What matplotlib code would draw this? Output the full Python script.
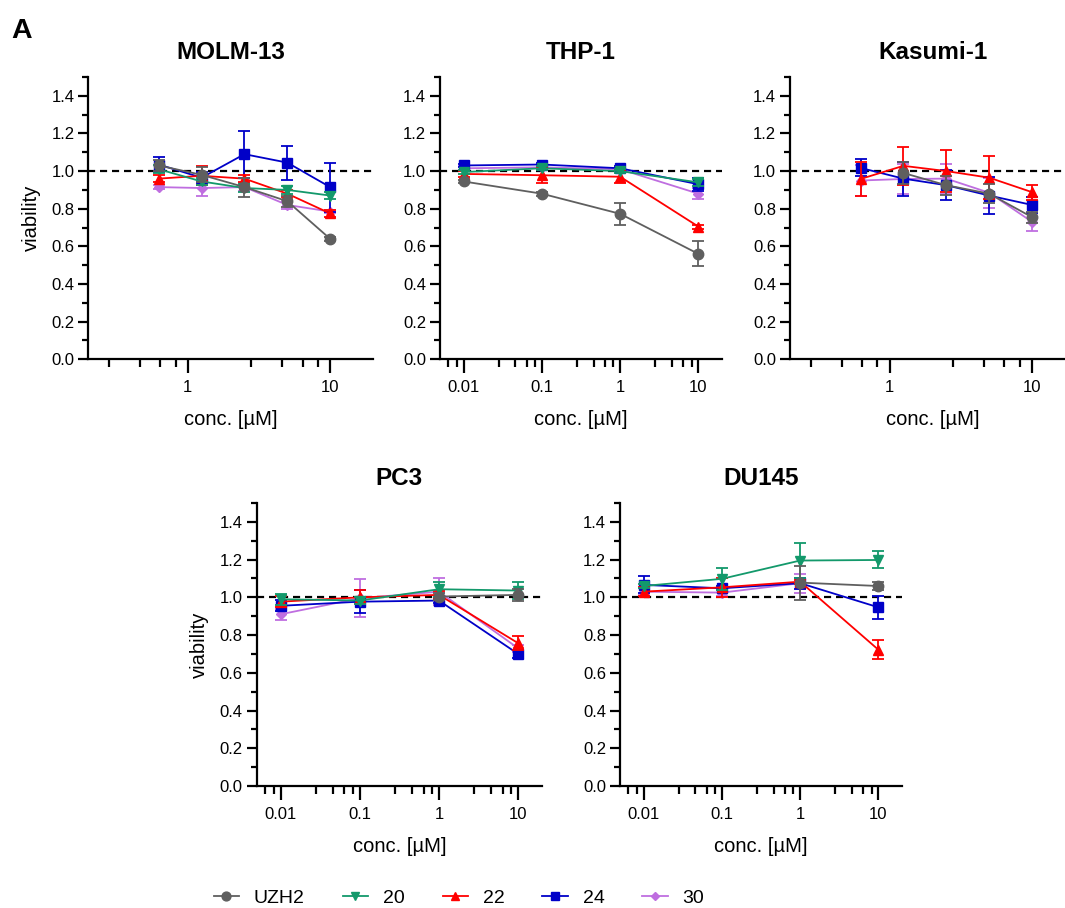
import numpy as np
import matplotlib
matplotlib.use("Agg")
import matplotlib.pyplot as plt
from matplotlib.lines import Line2D
from matplotlib.ticker import FixedLocator, NullFormatter

plt.rcParams['font.family'] = ['Liberation Sans', 'DejaVu Sans']

nan = np.nan

# ---- data ---------------------------------------------------------------
compounds = ["UZH2", "20", "22", "24", "30"]
colors = ["#5f5f5f", "#13996b", "#ff0000", "#0000c8", "#bf6ee0"]
markers = ["o", "v", "^", "s", "D"]
msizes = [7.5, 7.5, 7.5, 6.8, 5.2]

x_dilution = [0.625, 1.25, 2.5, 5, 10]
x_decade = [0.01, 0.1, 1, 10]

# MOLM-13
molm_mean = {
    "UZH2": [1.03, 0.98, 0.915, 0.84, 0.64],
    "20":   [1.01, 0.945, 0.91, 0.90, 0.87],
    "22":   [0.96, 0.975, 0.96, 0.88, 0.775],
    "24":   [1.035, 0.965, 1.09, 1.045, 0.915],
    "30":   [0.915, 0.91, 0.915, 0.82, 0.785],
}
molm_sem = {
    "UZH2": [0.03, 0.04, 0.05, 0.03, 0.01],
    "20":   [0.02, 0.02, 0.02, 0.02, 0.02],
    "22":   [0.02, 0.05, 0.02, 0.02, 0.02],
    "24":   [0.04, 0.03, 0.125, 0.09, 0.13],
    "30":   [0.01, 0.04, 0.02, 0.02, 0.01],
}

# THP-1
thp_mean = {
    "UZH2": [0.945, 0.88, 0.773, 0.56],
    "20":   [0.995, 1.015, 1.0, 0.94],
    "22":   [0.985, 0.978, 0.97, 0.705],
    "24":   [1.03, 1.035, 1.015, 0.93],
    "30":   [1.015, 1.02, 1.01, 0.88],
}
thp_sem = {
    "UZH2": [0.01, 0.01, 0.06, 0.066],
    "20":   [0.01, 0.01, 0.01, 0.02],
    "22":   [0.015, 0.04, 0.035, 0.01],
    "24":   [0.01, 0.01, 0.01, 0.035],
    "30":   [0.01, 0.01, 0.01, 0.03],
}

# Kasumi-1
kas_mean = {
    "UZH2": [nan, 0.99, 0.925, 0.88, 0.755],
    "20":   [nan, nan, nan, nan, nan],
    "22":   [0.958, 1.028, 1.0, 0.965, 0.888],
    "24":   [1.017, 0.96, 0.925, 0.87, 0.82],
    "30":   [0.95, 0.958, 0.96, 0.885, 0.73],
}
kas_sem = {
    "UZH2": [0.0, 0.06, 0.05, 0.05, 0.03],
    "20":   [0.0, 0.0, 0.0, 0.0, 0.0],
    "22":   [0.09, 0.10, 0.11, 0.115, 0.04],
    "24":   [0.045, 0.09, 0.08, 0.10, 0.04],
    "30":   [0.08, 0.08, 0.08, 0.08, 0.05],
}

# PC3
pc3_mean = {
    "UZH2": [nan, nan, 1.004, 1.013],
    "20":   [0.99, 0.983, 1.043, 1.036],
    "22":   [0.977, 1.0, 1.013, 0.757],
    "24":   [0.955, 0.977, 0.983, 0.70],
    "30":   [0.91, 0.995, 1.03, 0.73],
}
pc3_sem = {
    "UZH2": [0.0, 0.0, 0.02, 0.03],
    "20":   [0.03, 0.02, 0.04, 0.045],
    "22":   [0.03, 0.037, 0.02, 0.037],
    "24":   [0.03, 0.06, 0.015, 0.02],
    "30":   [0.03, 0.10, 0.07, 0.02],
}

# DU145
du_mean = {
    "UZH2": [nan, nan, 1.078, 1.06],
    "20":   [1.06, 1.098, 1.195, 1.198],
    "22":   [1.03, 1.053, 1.083, 0.722],
    "24":   [1.066, 1.048, 1.075, 0.947],
    "30":   [1.03, 1.025, 1.075, nan],
}
du_sem = {
    "UZH2": [0.0, 0.0, 0.09, 0.02],
    "20":   [0.01, 0.06, 0.095, 0.045],
    "22":   [0.025, 0.05, 0.01, 0.05],
    "24":   [0.045, 0.01, 0.03, 0.06],
    "30":   [0.02, 0.02, 0.05, 0.0],
}

y_ticks = [0.0, 0.2, 0.4, 0.6, 0.8, 1.0, 1.2, 1.4]

# ---- figure ---------------------------------------------------------------
W, H = 1065, 908
fig = plt.figure(figsize=(W / 100, H / 100), dpi=100)


def px_axes(x0, x1, y0, y1):
    return fig.add_axes([x0 / W, 1 - y1 / H, (x1 - x0) / W, (y1 - y0) / H])


def minor_log_ticks(lo, hi):
    ticks = []
    for e in range(-4, 3):
        for m in (2.8, 4.6, 6.4, 8.2):
            v = m * 10.0 ** e
            if lo < v < hi:
                ticks.append(v)
    return ticks


def panel(ax, title, xs, mean, sem, xlim, major, ylabel=False):
    ax.set_xscale("log")
    ax.set_xlim(*xlim)
    ax.set_ylim(0, 1.5)
    ax.axhline(1.0, color="black", lw=1.6, ls=(0, (3.2, 2.2)), zorder=1)
    n = len(compounds)
    for i, (c, col, mk, ms) in enumerate(zip(compounds, colors, markers, msizes)):
        m = np.array(mean[c], dtype=float)
        if np.all(np.isnan(m)):
            continue
        e = np.array(sem[c], dtype=float)
        ax.errorbar(xs, m, yerr=e, color=col, marker=mk, ms=ms, lw=1.3,
                    elinewidth=1.3, capsize=4.5, capthick=1.3,
                    zorder=10 + (n - i))
    for s in ("top", "right"):
        ax.spines[s].set_visible(False)
    for s in ("left", "bottom"):
        ax.spines[s].set_linewidth(1.6)
    ax.xaxis.set_major_locator(FixedLocator(major))
    ax.set_xticklabels([("%g" % v) for v in major])
    ax.xaxis.set_minor_locator(FixedLocator(minor_log_ticks(*xlim)))
    ax.xaxis.set_minor_formatter(NullFormatter())
    ax.set_yticks(y_ticks)
    ax.set_yticklabels(["%.1f" % v for v in y_ticks])
    ax.yaxis.set_minor_locator(FixedLocator(np.round(np.arange(0.1, 1.51, 0.2), 2)))
    ax.tick_params(axis="x", which="major", direction="out", length=10, width=1.6,
                   pad=5, labelsize=12)
    ax.tick_params(axis="x", which="minor", direction="out", length=5.5, width=1.6)
    ax.tick_params(axis="y", which="major", direction="out", length=7, width=1.6,
                   pad=3, labelsize=12)
    ax.tick_params(axis="y", which="minor", direction="out", length=4, width=1.6)
    ax.set_title(title, fontsize=17.5, fontweight="bold", pad=13)
    ax.set_xlabel("conc. [µM]", fontsize=14.5)
    ax.xaxis.set_label_coords(0.5, -0.18)
    if ylabel:
        ax.set_ylabel("viability", fontsize=14.5)
        ax.yaxis.set_label_coords(-0.168, 0.5)
    ax.patch.set_alpha(0)


ax1 = px_axes(88.3, 373, 77, 359.3)
panel(ax1, "MOLM-13", x_dilution, molm_mean, molm_sem, (0.2, 20), [1, 10], ylabel=True)

ax2 = px_axes(440, 722, 77, 359.3)
panel(ax2, "THP-1", x_decade, thp_mean, thp_sem, (0.005, 20), [0.01, 0.1, 1, 10])

ax3 = px_axes(790, 1075, 77, 359.3)
panel(ax3, "Kasumi-1", x_dilution, kas_mean, kas_sem, (0.2, 20), [1, 10])

ax4 = px_axes(256.7, 542, 503, 786)
panel(ax4, "PC3", x_decade, pc3_mean, pc3_sem, (0.005, 20), [0.01, 0.1, 1, 10], ylabel=True)

ax5 = px_axes(620, 902, 503, 786)
panel(ax5, "DU145", x_decade, du_mean, du_sem, (0.005, 20), [0.01, 0.1, 1, 10])

fig.text(11 / W, 1 - 38 / H, "A", fontsize=20.5, fontweight="bold", va="baseline")

handles = [Line2D([0], [0], color=col, marker=mk, ms=ms * 0.85, lw=1.3)
           for col, mk, ms in zip(colors, markers, msizes)]
fig.legend(handles, compounds, loc="center", bbox_to_anchor=(459 / W, 1 - 898 / H),
           ncol=5, frameon=False, fontsize=14, handlelength=1.3,
           handletextpad=0.77, columnspacing=1.95, borderpad=0, borderaxespad=0)

fig.savefig("out.png", dpi=100)
